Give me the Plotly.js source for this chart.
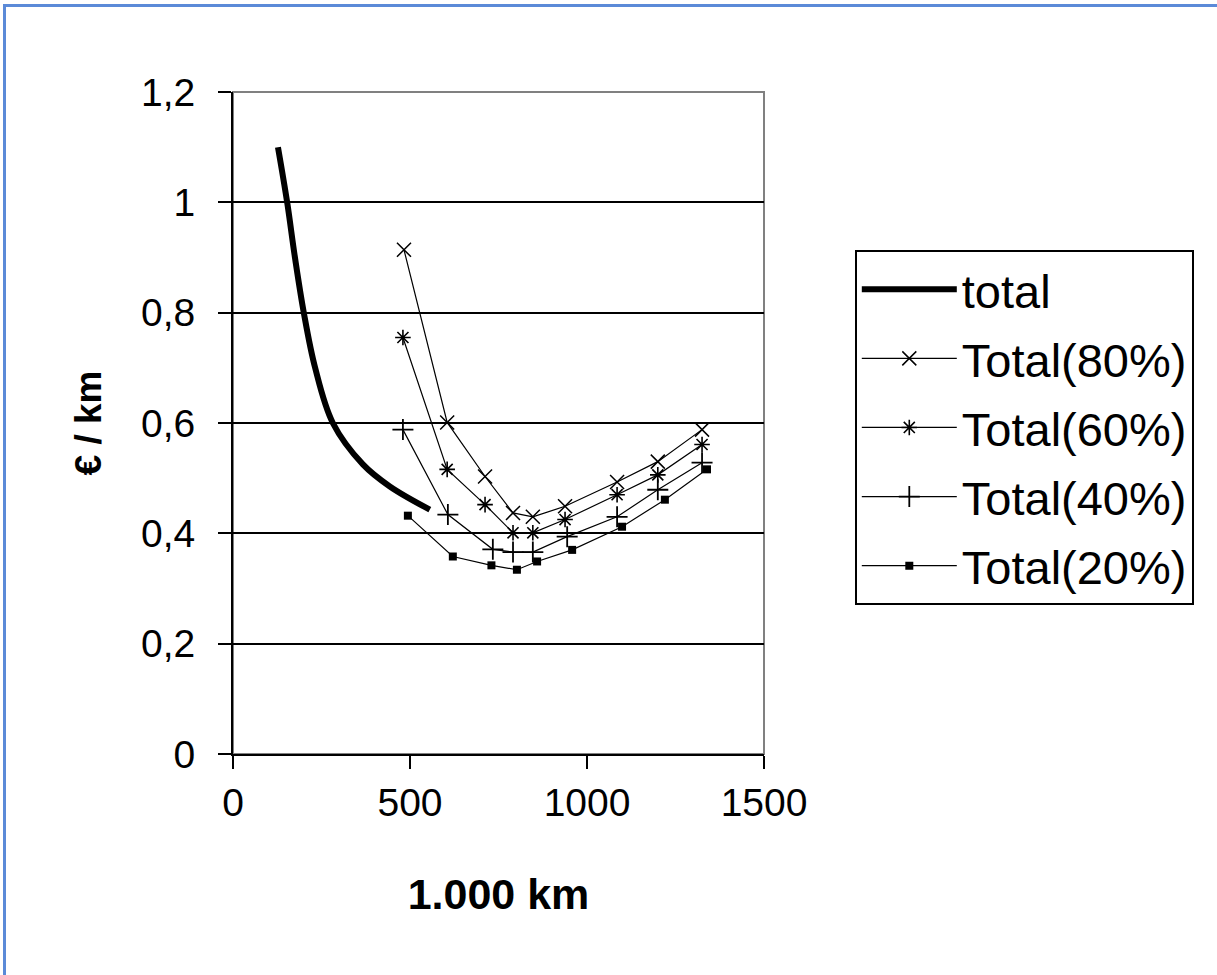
<!DOCTYPE html>
<html>
<head>
<meta charset="utf-8">
<script src="https://cdn.plot.ly/plotly-3.0.1.min.js"></script>
<style>
  html, body { margin: 0; padding: 0; background: #fff; }
  #wrap { position: relative; width: 1217px; height: 975px; overflow: hidden; }
  #frame { position: absolute; left: 3px; top: 4px; width: 1230px; height: 1000px;
           border-left: 3px solid #5b8ad8; border-top: 3px solid #5b8ad8; pointer-events: none; }
  #chart { position: absolute; left: 0; top: 0; width: 1217px; height: 975px; }
</style>
</head>
<body>
<div id="wrap">
  <div id="chart"></div>
  <div id="frame"></div>
</div>
<script>
// ---- data ----
const totalX = [127, 153, 175, 200, 232, 282, 367, 443, 556];
const totalY = [1.10, 1.00, 0.90, 0.80, 0.70, 0.60, 0.525, 0.485, 0.443];

const t80X = [483, 605, 712, 791, 847, 938, 1085, 1200, 1325];
const t80Y = [0.914, 0.601, 0.503, 0.437, 0.430, 0.449, 0.493, 0.530, 0.588];

const t60X = [480, 605, 712, 791, 847, 938, 1085, 1200, 1325];
const t60Y = [0.755, 0.516, 0.452, 0.401, 0.401, 0.425, 0.470, 0.506, 0.561];

const t40X = [480, 607, 734, 791, 847, 944, 1085, 1200, 1325];
const t40Y = [0.588, 0.434, 0.371, 0.366, 0.366, 0.394, 0.430, 0.479, 0.528];

const t20X = [494, 621, 730, 802, 859, 958, 1099, 1220, 1339];
const t20Y = [0.432, 0.358, 0.342, 0.334, 0.349, 0.370, 0.412, 0.461, 0.516];

const seriesNames = ["total", "Total(80%)", "Total(60%)", "Total(40%)", "Total(20%)"];

const xTickVals = [0, 500, 1000, 1500];
const xTickText = ["0", "500", "1000", "1500"];
const yTickVals = [0, 0.2, 0.4, 0.6, 0.8, 1.0, 1.2];
const yTickText = ["0", "0,2", "0,4", "0,6", "0,8", "1", "1,2"];

const xTitle = "1.000 km";
const yTitle = "€ / km";

// ---- traces ----
const FONT = "Arial, 'Liberation Sans', sans-serif";
const thin = {color: "#000", width: 1.2};

const traces = [
  {x: totalX, y: totalY, name: seriesNames[0], mode: "lines", legendgroup: "a",
   line: {color: "#000", width: 6, shape: "spline", smoothing: 1}},
  {x: t80X, y: t80Y, name: seriesNames[1], mode: "lines+markers", legendgroup: "b",
   line: thin, marker: {symbol: "x-thin-open", size: 14, color: "#000", line: {color: "#000", width: 1.5}}},
  {x: t60X, y: t60Y, name: seriesNames[2], mode: "lines+markers", legendgroup: "c",
   line: thin, marker: {symbol: "asterisk-open", size: 13, color: "#000", line: {color: "#000", width: 1.6}}},
  {x: t40X, y: t40Y, name: seriesNames[3], mode: "lines+markers", legendgroup: "d",
   line: thin, marker: {symbol: "cross-thin-open", size: 15, color: "#000", line: {color: "#000", width: 1.8}}},
  {x: t20X, y: t20Y, name: seriesNames[4], mode: "lines+markers", legendgroup: "e",
   line: thin, marker: {symbol: "square", size: 8, color: "#000", line: {width: 0}}}
];

const layout = {
  width: 1217, height: 975,
  margin: {l: 233, r: 453, t: 92, b: 221, pad: 0},
  paper_bgcolor: "#fff", plot_bgcolor: "#fff",
  font: {family: FONT, color: "#000", size: 39},
  showlegend: true,
  xaxis: {
    range: [0, 1500], tickvals: xTickVals, ticktext: xTickText,
    ticks: "outside", ticklen: 13, tickwidth: 2, tickcolor: "#000",
    showline: true, linecolor: "#000", linewidth: 2,
    showgrid: false, zeroline: false,
    tickfont: {size: 39, family: FONT},
    title: {text: xTitle, font: {size: 43, family: FONT, weight: "bold"}, standoff: 56}
  },
  yaxis: {
    range: [0, 1.2], tickvals: yTickVals, ticktext: yTickText,
    ticks: "outside", ticklen: 13, tickwidth: 2, tickcolor: "#000",
    showline: true, linecolor: "#000", linewidth: 2,
    showgrid: true, gridcolor: "#000", gridwidth: 2, zeroline: false,
    tickfont: {size: 39, family: FONT}, ticklabelstandoff: 15,
    title: {text: yTitle, font: {size: 37, family: FONT, weight: "bold"}, standoff: 28}
  },
  shapes: [
    {type: "rect", xref: "paper", yref: "paper", x0: 0, x1: 1, y0: 0, y1: 1,
     line: {color: "#808080", width: 2}, layer: "below"}
  ],
  legend: {
    x: 1.171, y: 0.761, xanchor: "left", yanchor: "top",
    bgcolor: "#fff", bordercolor: "#000", borderwidth: 2,
    font: {size: 47, family: FONT},
    itemwidth: 95, tracegroupgap: 5, traceorder: "grouped"
  }
};

Plotly.newPlot("chart", traces, layout, {displayModeBar: false, staticPlot: true});
</script>
</body>
</html>
